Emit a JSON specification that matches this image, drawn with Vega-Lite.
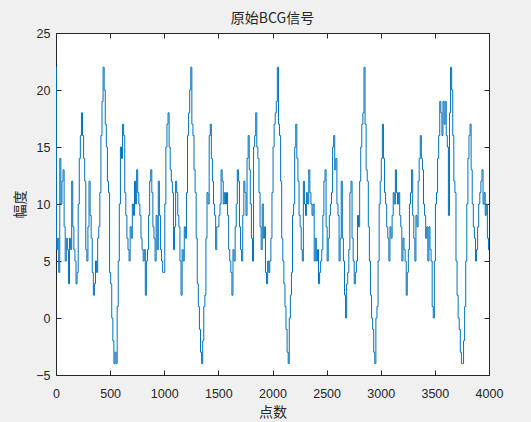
{
  "$schema": "https://vega.github.io/schema/vega-lite/v6.json",
  "width": 433,
  "height": 342,
  "autosize": {"type": "none"},
  "padding": {"left": 56, "top": 33, "right": 42, "bottom": 47},
  "background": "#f0f0f0",
  "view": {"fill": "white", "stroke": "#262626", "strokeWidth": 1},
  "title": {"text": "原始BCG信号", "fontSize": 14, "fontWeight": "normal", "color": "#262626", "offset": 1, "font": "Noto Sans CJK SC"},
  "config": {
    "axis": {"grid": false, "domain": false, "tickColor": "#262626", "tickSize": -5, "labelColor": "#262626", "labelFont": "Liberation Sans", "labelFontSize": 12.5, "titleColor": "#262626", "titleFont": "Noto Sans CJK SC", "titleFontSize": 14, "titleFontWeight": "normal"}
  },
  "data": {"values": [
{"x":0,"y":22},{"x":10,"y":6},{"x":20,"y":7},{"x":30,"y":4},{"x":40,"y":14},{"x":50,"y":10},{"x":60,"y":12},{"x":70,"y":13},{"x":80,"y":8},{"x":90,"y":5},
{"x":100,"y":7},{"x":110,"y":6},{"x":120,"y":3},{"x":130,"y":7},{"x":140,"y":6},{"x":150,"y":12},{"x":160,"y":8},{"x":170,"y":6},{"x":180,"y":5},{"x":190,"y":3},
{"x":200,"y":4},{"x":210,"y":10},{"x":220,"y":14},{"x":230,"y":16},{"x":240,"y":18},{"x":250,"y":16},{"x":260,"y":14},{"x":270,"y":12},{"x":280,"y":6},{"x":290,"y":5},
{"x":300,"y":8},{"x":310,"y":12},{"x":320,"y":9},{"x":330,"y":7},{"x":340,"y":4},{"x":350,"y":2},{"x":360,"y":3},{"x":370,"y":5},{"x":380,"y":4},{"x":390,"y":7},
{"x":400,"y":8},{"x":410,"y":11},{"x":420,"y":16},{"x":430,"y":19},{"x":440,"y":22},{"x":450,"y":20},{"x":460,"y":17},{"x":470,"y":15},{"x":480,"y":12},{"x":490,"y":11},
{"x":500,"y":4},{"x":510,"y":3},{"x":520,"y":0},{"x":530,"y":-2},{"x":540,"y":-4},{"x":550,"y":-3},{"x":560,"y":-4},{"x":570,"y":1},{"x":580,"y":5},{"x":590,"y":10},
{"x":600,"y":15},{"x":610,"y":14},{"x":620,"y":17},{"x":630,"y":16},{"x":640,"y":11},{"x":650,"y":9},{"x":660,"y":7},{"x":670,"y":6},{"x":680,"y":5},{"x":690,"y":8},
{"x":700,"y":7},{"x":710,"y":10},{"x":720,"y":9},{"x":730,"y":12},{"x":740,"y":10},{"x":750,"y":13},{"x":760,"y":11},{"x":770,"y":10},{"x":780,"y":9},{"x":790,"y":7},
{"x":800,"y":6},{"x":810,"y":5},{"x":820,"y":6},{"x":830,"y":2},{"x":840,"y":5},{"x":850,"y":6},{"x":860,"y":9},{"x":870,"y":12},{"x":880,"y":13},{"x":890,"y":11},
{"x":900,"y":8},{"x":910,"y":7},{"x":920,"y":5},{"x":930,"y":9},{"x":940,"y":6},{"x":950,"y":12},{"x":960,"y":9},{"x":970,"y":6},{"x":980,"y":5},{"x":990,"y":4},
{"x":1000,"y":4},{"x":1010,"y":10},{"x":1020,"y":15},{"x":1030,"y":17},{"x":1040,"y":18},{"x":1050,"y":15},{"x":1060,"y":13},{"x":1070,"y":12},{"x":1080,"y":11},{"x":1090,"y":6},
{"x":1100,"y":8},{"x":1110,"y":12},{"x":1120,"y":11},{"x":1130,"y":9},{"x":1140,"y":8},{"x":1150,"y":5},{"x":1160,"y":2},{"x":1170,"y":6},{"x":1180,"y":5},{"x":1190,"y":8},
{"x":1200,"y":7},{"x":1210,"y":11},{"x":1220,"y":16},{"x":1230,"y":18},{"x":1240,"y":20},{"x":1250,"y":22},{"x":1260,"y":17},{"x":1270,"y":16},{"x":1280,"y":13},{"x":1290,"y":11},
{"x":1300,"y":7},{"x":1310,"y":3},{"x":1320,"y":1},{"x":1330,"y":-1},{"x":1340,"y":-3},{"x":1350,"y":-4},{"x":1360,"y":-2},{"x":1370,"y":1},{"x":1380,"y":2},{"x":1390,"y":7},
{"x":1400,"y":11},{"x":1410,"y":10},{"x":1420,"y":16},{"x":1430,"y":17},{"x":1440,"y":14},{"x":1450,"y":12},{"x":1460,"y":10},{"x":1470,"y":9},{"x":1480,"y":6},{"x":1490,"y":8},
{"x":1500,"y":8},{"x":1510,"y":9},{"x":1520,"y":10},{"x":1530,"y":13},{"x":1540,"y":12},{"x":1550,"y":10},{"x":1560,"y":11},{"x":1570,"y":10},{"x":1580,"y":11},{"x":1590,"y":9},
{"x":1600,"y":6},{"x":1610,"y":5},{"x":1620,"y":4},{"x":1630,"y":2},{"x":1640,"y":6},{"x":1650,"y":5},{"x":1660,"y":8},{"x":1670,"y":10},{"x":1680,"y":13},{"x":1690,"y":12},
{"x":1700,"y":8},{"x":1710,"y":6},{"x":1720,"y":5},{"x":1730,"y":9},{"x":1740,"y":12},{"x":1750,"y":11},{"x":1760,"y":9},{"x":1770,"y":14},{"x":1780,"y":16},{"x":1790,"y":13},
{"x":1800,"y":10},{"x":1810,"y":7},{"x":1820,"y":5},{"x":1830,"y":15},{"x":1840,"y":16},{"x":1850,"y":18},{"x":1860,"y":15},{"x":1870,"y":14},{"x":1880,"y":11},{"x":1890,"y":8},
{"x":1900,"y":6},{"x":1910,"y":10},{"x":1920,"y":7},{"x":1930,"y":8},{"x":1940,"y":4},{"x":1950,"y":3},{"x":1960,"y":5},{"x":1970,"y":4},{"x":1980,"y":5},{"x":1990,"y":7},
{"x":2000,"y":11},{"x":2010,"y":15},{"x":2020,"y":17},{"x":2030,"y":18},{"x":2040,"y":19},{"x":2050,"y":22},{"x":2060,"y":17},{"x":2070,"y":16},{"x":2080,"y":12},{"x":2090,"y":7},
{"x":2100,"y":5},{"x":2110,"y":3},{"x":2120,"y":1},{"x":2130,"y":-1},{"x":2140,"y":-3},{"x":2150,"y":-4},{"x":2160,"y":0},{"x":2170,"y":2},{"x":2180,"y":4},{"x":2190,"y":9},
{"x":2200,"y":10},{"x":2210,"y":15},{"x":2220,"y":17},{"x":2230,"y":14},{"x":2240,"y":12},{"x":2250,"y":9},{"x":2260,"y":8},{"x":2270,"y":6},{"x":2280,"y":5},{"x":2290,"y":12},
{"x":2300,"y":10},{"x":2310,"y":9},{"x":2320,"y":11},{"x":2330,"y":10},{"x":2340,"y":13},{"x":2350,"y":11},{"x":2360,"y":10},{"x":2370,"y":9},{"x":2380,"y":10},{"x":2390,"y":5},
{"x":2400,"y":7},{"x":2410,"y":5},{"x":2420,"y":6},{"x":2430,"y":3},{"x":2440,"y":4},{"x":2450,"y":5},{"x":2460,"y":6},{"x":2470,"y":9},{"x":2480,"y":12},{"x":2490,"y":13},
{"x":2500,"y":8},{"x":2510,"y":5},{"x":2520,"y":7},{"x":2530,"y":9},{"x":2540,"y":10},{"x":2550,"y":11},{"x":2560,"y":15},{"x":2570,"y":16},{"x":2580,"y":13},{"x":2590,"y":14},
{"x":2600,"y":10},{"x":2610,"y":9},{"x":2620,"y":5},{"x":2630,"y":7},{"x":2640,"y":12},{"x":2650,"y":7},{"x":2660,"y":5},{"x":2670,"y":2},{"x":2680,"y":0},{"x":2690,"y":3},
{"x":2700,"y":4},{"x":2710,"y":6},{"x":2720,"y":11},{"x":2730,"y":12},{"x":2740,"y":7},{"x":2750,"y":5},{"x":2760,"y":3},{"x":2770,"y":4},{"x":2780,"y":5},{"x":2790,"y":9},
{"x":2800,"y":8},{"x":2810,"y":12},{"x":2820,"y":15},{"x":2830,"y":17},{"x":2840,"y":18},{"x":2850,"y":22},{"x":2860,"y":17},{"x":2870,"y":13},{"x":2880,"y":12},{"x":2890,"y":8},
{"x":2900,"y":5},{"x":2910,"y":2},{"x":2920,"y":0},{"x":2930,"y":-1},{"x":2940,"y":-3},{"x":2950,"y":-4},{"x":2960,"y":0},{"x":2970,"y":1},{"x":2980,"y":5},{"x":2990,"y":10},
{"x":3000,"y":12},{"x":3010,"y":14},{"x":3020,"y":17},{"x":3030,"y":14},{"x":3040,"y":11},{"x":3050,"y":10},{"x":3060,"y":8},{"x":3070,"y":7},{"x":3080,"y":5},{"x":3090,"y":8},
{"x":3100,"y":7},{"x":3110,"y":9},{"x":3120,"y":11},{"x":3130,"y":10},{"x":3140,"y":13},{"x":3150,"y":11},{"x":3160,"y":10},{"x":3170,"y":11},{"x":3180,"y":9},{"x":3190,"y":8},
{"x":3200,"y":5},{"x":3210,"y":7},{"x":3220,"y":6},{"x":3230,"y":5},{"x":3240,"y":2},{"x":3250,"y":4},{"x":3260,"y":6},{"x":3270,"y":10},{"x":3280,"y":11},{"x":3290,"y":13},
{"x":3300,"y":9},{"x":3310,"y":7},{"x":3320,"y":5},{"x":3330,"y":9},{"x":3340,"y":8},{"x":3350,"y":12},{"x":3360,"y":14},{"x":3370,"y":16},{"x":3380,"y":14},{"x":3390,"y":13},
{"x":3400,"y":10},{"x":3410,"y":9},{"x":3420,"y":7},{"x":3430,"y":8},{"x":3440,"y":5},{"x":3450,"y":8},{"x":3460,"y":6},{"x":3470,"y":5},{"x":3480,"y":1},{"x":3490,"y":0},
{"x":3500,"y":5},{"x":3510,"y":10},{"x":3520,"y":11},{"x":3530,"y":14},{"x":3540,"y":16},{"x":3550,"y":19},{"x":3560,"y":18},{"x":3570,"y":16},{"x":3580,"y":19},{"x":3590,"y":17},
{"x":3600,"y":19},{"x":3610,"y":16},{"x":3620,"y":15},{"x":3630,"y":9},{"x":3640,"y":18},{"x":3650,"y":22},{"x":3660,"y":20},{"x":3670,"y":16},{"x":3680,"y":12},{"x":3690,"y":11},
{"x":3700,"y":5},{"x":3710,"y":2},{"x":3720,"y":0},{"x":3730,"y":-1},{"x":3740,"y":-3},{"x":3750,"y":-4},{"x":3760,"y":-4},{"x":3770,"y":-2},{"x":3780,"y":1},{"x":3790,"y":5},
{"x":3800,"y":10},{"x":3810,"y":14},{"x":3820,"y":16},{"x":3830,"y":17},{"x":3840,"y":13},{"x":3850,"y":10},{"x":3860,"y":8},{"x":3870,"y":7},{"x":3880,"y":5},{"x":3890,"y":6},
{"x":3900,"y":8},{"x":3910,"y":10},{"x":3920,"y":11},{"x":3930,"y":12},{"x":3940,"y":13},{"x":3950,"y":10},{"x":3960,"y":11},{"x":3970,"y":9},{"x":3980,"y":10},{"x":3990,"y":7},
{"x":4000,"y":6}
  ]},
  "layer": [
    {
      "mark": {"type": "line", "color": "#0072bd", "strokeWidth": 1, "interpolate": "step"},
      "encoding": {
        "x": {"field": "x", "type": "quantitative", "scale": {"domain": [0, 4000], "nice": false, "zero": false},
              "axis": {"orient": "bottom", "values": [0,500,1000,1500,2000,2500,3000,3500,4000], "format": "d", "labelPadding": 17, "title": "点数", "titlePadding": 6, "labelFlush": false}},
        "y": {"field": "y", "type": "quantitative", "scale": {"domain": [-5, 25], "nice": false, "zero": false},
              "axis": {"orient": "left", "values": [-5,0,5,10,15,20,25], "labelPadding": 11, "title": "幅度", "titlePadding": 8}}
      }
    },
    {
      "mark": {"type": "line", "opacity": 0},
      "encoding": {
        "x": {"field": "x", "type": "quantitative", "axis": {"orient": "top", "values": [0,500,1000,1500,2000,2500,3000,3500,4000], "labels": false, "title": null}},
        "y": {"field": "y", "type": "quantitative", "axis": {"orient": "right", "values": [-5,0,5,10,15,20,25], "labels": false, "title": null}}
      }
    }
  ],
  "resolve": {"axis": {"x": "independent", "y": "independent"}}
}
